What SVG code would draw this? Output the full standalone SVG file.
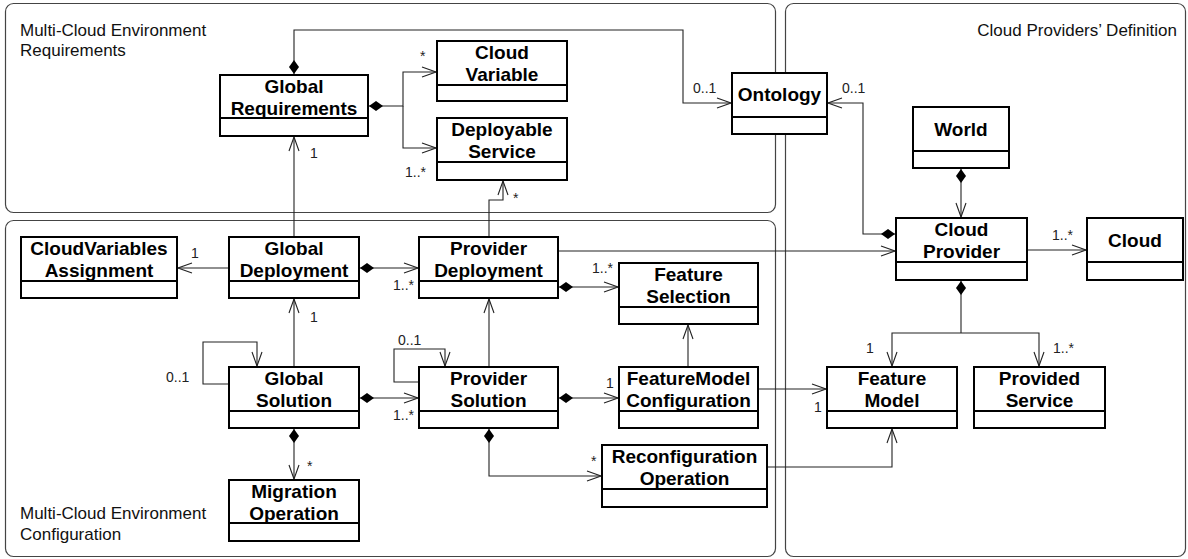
<svg xmlns="http://www.w3.org/2000/svg" width="1188" height="559" viewBox="0 0 1188 559">
<style>
.cont{fill:none;stroke:#444;stroke-width:1.2}
.clabel{font-family:"Liberation Sans",Arial,Helvetica,sans-serif;font-size:17px;fill:#111}
.box{fill:#fff;stroke:#000;stroke-width:2}
.div{stroke:#000;stroke-width:2}
.title{font-family:"Liberation Sans",Arial,Helvetica,sans-serif;font-size:19px;font-weight:bold;fill:#000;text-anchor:middle}
.conn path{fill:none;stroke:#222;stroke-width:1.1}
.mult{font-family:"Liberation Sans",Arial,Helvetica,sans-serif;font-size:14px;fill:#222}
</style>
<defs>
<marker id="arrow" viewBox="0 0 16 12" refX="15" refY="6" markerWidth="16" markerHeight="12" orient="auto" markerUnits="userSpaceOnUse">
<path d="M1,1 L15,6 L1,11" fill="none" stroke="#222" stroke-width="1.1"/>
</marker>
<marker id="diamond" viewBox="0 0 16 12" refX="1" refY="6" markerWidth="16" markerHeight="12" orient="auto" markerUnits="userSpaceOnUse">
<path d="M1,6 L8,1 L15,6 L8,11 Z" fill="#000"/>
</marker>
</defs>
<rect width="1188" height="559" fill="#fff"/>

<g id="containers">
<rect class="cont" x="5.5" y="3.5" width="770" height="209" rx="8"/>
<rect class="cont" x="5.5" y="220.5" width="770" height="336" rx="8"/>
<rect class="cont" x="785.5" y="3.5" width="400" height="553" rx="8"/>
<text class="clabel" x="20" y="36">Multi-Cloud Environment</text>
<text class="clabel" x="20" y="56">Requirements</text>
<text class="clabel" x="20" y="519">Multi-Cloud Environment</text>
<text class="clabel" x="20" y="540">Configuration</text>
<text class="clabel" x="1177" y="36" text-anchor="end">Cloud Providers’ Definition</text>
</g>

<g id="connectors" class="conn">
<path d="M294,74 V30 H683 V103 H731" marker-start="url(#diamond)" marker-end="url(#arrow)"/>
<path d="M369,106 H403 V72 H436" marker-start="url(#diamond)" marker-end="url(#arrow)"/>
<path d="M403,106 V148 H436" marker-end="url(#arrow)"/>
<path d="M294,237 V137" marker-end="url(#arrow)"/>
<path d="M489,237 V200 H503 V181" marker-end="url(#arrow)"/>
<path d="M228,268 H178" marker-end="url(#arrow)"/>
<path d="M360,268 H418" marker-start="url(#diamond)" marker-end="url(#arrow)"/>
<path d="M559,251 H895" marker-end="url(#arrow)"/>
<path d="M559,287 H618" marker-start="url(#diamond)" marker-end="url(#arrow)"/>
<path d="M895,234 H863 V103 H828" marker-start="url(#diamond)" marker-end="url(#arrow)"/>
<path d="M961,169 V217" marker-start="url(#diamond)" marker-end="url(#arrow)"/>
<path d="M1028,250 H1086" marker-end="url(#arrow)"/>
<path d="M961,281 V333" marker-start="url(#diamond)"/>
<path d="M961,333 H892 V366" marker-end="url(#arrow)"/>
<path d="M961,333 H1039 V366" marker-end="url(#arrow)"/>
<path d="M759,389 H826" marker-end="url(#arrow)"/>
<path d="M768,467 H892 V429" marker-end="url(#arrow)"/>
<path d="M688,367 V325" marker-end="url(#arrow)"/>
<path d="M489,367 V299" marker-end="url(#arrow)"/>
<path d="M419,382 H394 V349 H445 V366" marker-end="url(#arrow)"/>
<path d="M559,398 H618" marker-start="url(#diamond)" marker-end="url(#arrow)"/>
<path d="M360,398 H418" marker-start="url(#diamond)" marker-end="url(#arrow)"/>
<path d="M294,367 V299" marker-end="url(#arrow)"/>
<path d="M229,384 H203 V342 H257 V366" marker-end="url(#arrow)"/>
<path d="M294,429 V479" marker-start="url(#diamond)" marker-end="url(#arrow)"/>
<path d="M489,429 V476 H601" marker-start="url(#diamond)" marker-end="url(#arrow)"/>
</g>

<g id="multiplicities">
<text class="mult" x="693" y="93">0..1</text>
<text class="mult" x="420" y="61">*</text>
<text class="mult" x="405" y="177">1..*</text>
<text class="mult" x="513" y="203">*</text>
<text class="mult" x="310" y="158">1</text>
<text class="mult" x="842" y="93">0..1</text>
<text class="mult" x="191" y="258">1</text>
<text class="mult" x="393" y="290">1..*</text>
<text class="mult" x="592" y="273">1..*</text>
<text class="mult" x="1052" y="240">1..*</text>
<text class="mult" x="866" y="353">1</text>
<text class="mult" x="1053" y="353">1..*</text>
<text class="mult" x="814" y="412">1</text>
<text class="mult" x="398" y="345">0..1</text>
<text class="mult" x="606" y="388">1</text>
<text class="mult" x="393" y="420">1..*</text>
<text class="mult" x="310" y="322">1</text>
<text class="mult" x="166" y="382">0..1</text>
<text class="mult" x="307" y="471">*</text>
<text class="mult" x="591" y="466">*</text>
</g>

<g id="GlobalRequirements">
<rect class="box" x="220" y="75" width="148" height="61"/>
<line class="div" x1="220" y1="118" x2="368" y2="118"/>
<text class="title" x="294" y="92.5">Global</text>
<text class="title" x="294" y="114.5">Requirements</text>
</g>
<g id="CloudVariable">
<rect class="box" x="437" y="41" width="130" height="60"/>
<line class="div" x1="437" y1="85" x2="567" y2="85"/>
<text class="title" x="502" y="58.5">Cloud</text>
<text class="title" x="502" y="80.5">Variable</text>
</g>
<g id="DeployableService">
<rect class="box" x="437" y="118" width="130" height="62"/>
<line class="div" x1="437" y1="162" x2="567" y2="162"/>
<text class="title" x="502" y="135.5">Deployable</text>
<text class="title" x="502" y="158">Service</text>
</g>
<g id="Ontology">
<rect class="box" x="732" y="73" width="95" height="61"/>
<line class="div" x1="732" y1="117" x2="827" y2="117"/>
<text class="title" x="779.5" y="101">Ontology</text>
</g>
<g id="World">
<rect class="box" x="913" y="107" width="96" height="61"/>
<line class="div" x1="913" y1="151" x2="1009" y2="151"/>
<text class="title" x="961" y="136">World</text>
</g>
<g id="CloudProvider">
<rect class="box" x="896" y="218" width="131" height="62"/>
<line class="div" x1="896" y1="262" x2="1027" y2="262"/>
<text class="title" x="961.5" y="235.5">Cloud</text>
<text class="title" x="961.5" y="257.5">Provider</text>
</g>
<g id="Cloud">
<rect class="box" x="1087" y="218" width="96" height="62"/>
<line class="div" x1="1087" y1="262" x2="1183" y2="262"/>
<text class="title" x="1135" y="247">Cloud</text>
</g>
<g id="FeatureModel">
<rect class="box" x="827" y="367" width="130" height="61"/>
<line class="div" x1="827" y1="411" x2="957" y2="411"/>
<text class="title" x="892" y="384.5">Feature</text>
<text class="title" x="892" y="406.5">Model</text>
</g>
<g id="ProvidedService">
<rect class="box" x="974" y="367" width="131" height="61"/>
<line class="div" x1="974" y1="411" x2="1105" y2="411"/>
<text class="title" x="1039.5" y="384.5">Provided</text>
<text class="title" x="1039.5" y="406.5">Service</text>
</g>
<g id="CloudVariablesAssignment">
<rect class="box" x="21" y="237" width="156" height="61"/>
<line class="div" x1="21" y1="281" x2="177" y2="281"/>
<text class="title" x="99" y="254.5">CloudVariables</text>
<text class="title" x="99" y="276.5">Assignment</text>
</g>
<g id="GlobalDeployment">
<rect class="box" x="229" y="237" width="130" height="61"/>
<line class="div" x1="229" y1="281" x2="359" y2="281"/>
<text class="title" x="294" y="254.5">Global</text>
<text class="title" x="294" y="276.5">Deployment</text>
</g>
<g id="ProviderDeployment">
<rect class="box" x="419" y="237" width="139" height="61"/>
<line class="div" x1="419" y1="281" x2="558" y2="281"/>
<text class="title" x="488.5" y="254.5">Provider</text>
<text class="title" x="488.5" y="276.5">Deployment</text>
</g>
<g id="FeatureSelection">
<rect class="box" x="619" y="263" width="139" height="61"/>
<line class="div" x1="619" y1="307" x2="758" y2="307"/>
<text class="title" x="688.5" y="280.5">Feature</text>
<text class="title" x="688.5" y="302.5">Selection</text>
</g>
<g id="GlobalSolution">
<rect class="box" x="229" y="367" width="130" height="61"/>
<line class="div" x1="229" y1="411" x2="359" y2="411"/>
<text class="title" x="294" y="384.5">Global</text>
<text class="title" x="294" y="406.5">Solution</text>
</g>
<g id="ProviderSolution">
<rect class="box" x="419" y="367" width="139" height="61"/>
<line class="div" x1="419" y1="411" x2="558" y2="411"/>
<text class="title" x="488.5" y="384.5">Provider</text>
<text class="title" x="488.5" y="406.5">Solution</text>
</g>
<g id="FeatureModelConfiguration">
<rect class="box" x="619" y="367" width="139" height="61"/>
<line class="div" x1="619" y1="411" x2="758" y2="411"/>
<text class="title" x="688.5" y="384.5">FeatureModel</text>
<text class="title" x="688.5" y="406.5">Configuration</text>
</g>
<g id="MigrationOperation">
<rect class="box" x="229" y="480" width="130" height="61"/>
<line class="div" x1="229" y1="523" x2="359" y2="523"/>
<text class="title" x="294" y="497.5">Migration</text>
<text class="title" x="294" y="519.5">Operation</text>
</g>
<g id="ReconfigurationOperation">
<rect class="box" x="602" y="445" width="165" height="62"/>
<line class="div" x1="602" y1="489" x2="767" y2="489"/>
<text class="title" x="684.5" y="462.5">Reconfiguration</text>
<text class="title" x="684.5" y="484.5">Operation</text>
</g>
</svg>
